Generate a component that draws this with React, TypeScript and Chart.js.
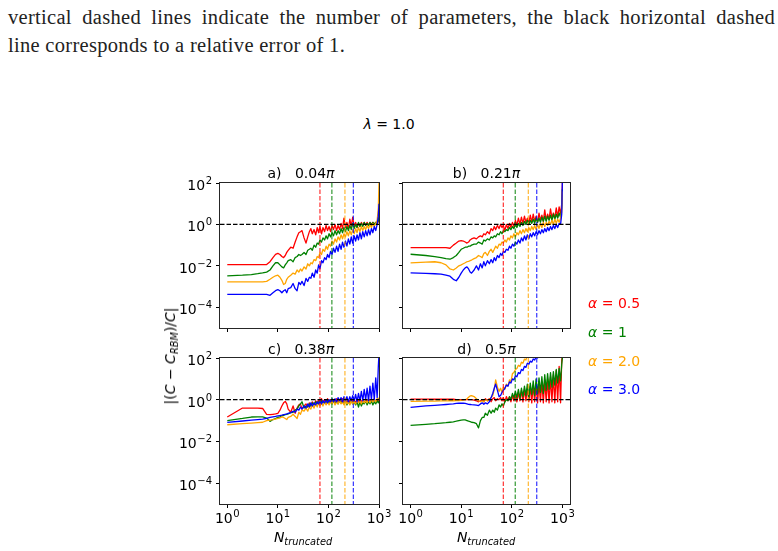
import React, { useEffect, useRef } from "react";
import { Chart, registerables } from "chart.js";
Chart.register(...registerables);

// ---------------- data ----------------
const nTruncated = [1,2,3,4,5,6,7,8,9,10,11,12,13,14,15,16,18,20,22,24,26,28,30,33,36,39,42,45,48,52,56,60,64,68,73,78,84,90,96,103,110,118,126,135,145,155,166,178,190,203,217,232,248,265,283,302,323,345,368,393,420,448,478,510,545,582,621,663,708,756,807,862,920,970,1000];

// panel a) 0.04π
const aRed = [0.0115,0.0115,0.0115,0.0115,0.0115,0.0115,0.0158,0.0251,0.0355,0.0398,0.0355,0.0282,0.0251,0.0316,0.0447,0.0562,0.0794,0.0708,0.141,0.251,0.398,0.447,0.501,0.224,0.126,0.251,0.447,0.631,0.355,0.562,0.316,0.708,0.398,0.794,0.355,0.708,0.447,0.891,0.501,0.794,0.447,0.891,0.562,1.0,0.501,0.891,0.562,1.12,0.631,2.0,0.708,1.26,0.631,1.78,0.794,2.24,0.794,1.26,0.708,1.12,0.794,1.26,0.891,1.26,0.891,1.26,0.891,1.26,1.0,1.26,1.0,1.26,1.0,1.41,1.58];
const aGreen = [0.00331,0.00355,0.0038,0.00417,0.00457,0.00501,0.00631,0.01,0.0141,0.0141,0.0112,0.00891,0.00794,0.0112,0.0141,0.0178,0.02,0.0158,0.0251,0.0282,0.0355,0.0316,0.0355,0.0447,0.0355,0.0562,0.0631,0.0708,0.0562,0.1,0.0794,0.126,0.112,0.178,0.141,0.224,0.178,0.282,0.2,0.355,0.251,0.398,0.282,0.501,0.316,0.501,0.355,0.631,0.398,0.708,0.447,0.794,0.501,0.891,0.562,1.12,0.631,1.0,0.708,1.26,0.794,1.12,0.794,1.26,0.891,1.12,0.891,1.26,0.891,1.26,1.0,1.26,1.12,1.58,2.51];
const aOrange = [0.0017,0.0017,0.0017,0.0017,0.0017,0.00178,0.00224,0.00282,0.00331,0.00355,0.00282,0.002,0.00126,0.00141,0.00224,0.00282,0.00355,0.00447,0.00398,0.00631,0.00501,0.00708,0.00562,0.00891,0.00708,0.0126,0.01,0.0141,0.0126,0.02,0.0178,0.0282,0.0251,0.0447,0.0355,0.0631,0.0501,0.0891,0.0631,0.112,0.0891,0.158,0.112,0.2,0.141,0.251,0.178,0.316,0.2,0.355,0.251,0.447,0.282,0.501,0.316,0.562,0.355,0.631,0.398,0.708,0.447,0.794,0.501,0.794,0.562,0.891,0.631,1.0,0.708,1.12,0.794,1.12,1.58,6.31,100];
const aBlue = [0.000417,0.000417,0.000417,0.000417,0.000417,0.000417,0.00038,0.000501,0.000631,0.000708,0.000631,0.000501,0.000631,0.000708,0.000501,0.000794,0.000891,0.00141,0.000794,0.000631,0.00158,0.00126,0.00178,0.00112,0.00251,0.00178,0.00282,0.00251,0.00447,0.00282,0.00631,0.00447,0.0112,0.00708,0.0178,0.0141,0.0251,0.02,0.0355,0.0251,0.0501,0.0355,0.0708,0.0447,0.0891,0.0501,0.112,0.0631,0.141,0.0794,0.158,0.0891,0.2,0.112,0.251,0.126,0.282,0.158,0.316,0.178,0.398,0.2,0.447,0.251,0.501,0.282,0.562,0.316,0.631,0.398,0.794,0.501,1.0,2.51,10];

// panel b) 0.21π
const bRed = [0.0759,0.0759,0.0759,0.0759,0.0759,0.0708,0.1,0.126,0.158,0.166,0.158,0.141,0.126,0.141,0.178,0.2,0.224,0.2,0.251,0.282,0.251,0.355,0.316,0.447,0.355,0.631,0.501,0.794,0.562,0.891,0.631,1.0,0.708,0.891,0.501,1.0,0.631,1.12,0.708,1.26,0.794,1.58,0.891,2.0,1.0,2.24,1.12,2.51,1.26,2.0,1.12,2.82,1.26,3.16,1.41,2.51,1.26,3.55,1.58,2.82,1.41,5.01,1.58,3.16,1.78,5.62,2.0,3.55,2.0,6.31,2.24,7.08,3.16,10,100];
const bGreen = [0.0363,0.0316,0.0282,0.0251,0.0224,0.0209,0.0251,0.0316,0.0447,0.0631,0.0708,0.0794,0.0794,0.0891,0.0891,0.1,0.112,0.112,0.141,0.126,0.112,0.178,0.158,0.2,0.178,0.251,0.224,0.282,0.251,0.355,0.316,0.447,0.355,0.501,0.447,0.562,0.501,0.708,0.562,0.794,0.631,1.0,0.708,1.12,0.794,1.26,0.891,1.41,1.0,1.58,1.0,1.58,1.12,1.78,1.12,2.0,1.26,2.0,1.26,2.24,1.41,2.51,1.41,2.51,1.58,2.82,1.58,3.16,1.78,3.16,2.0,3.55,2.24,6.31,50.1];
const bOrange = [0.0138,0.0151,0.0158,0.0141,0.0112,0.00708,0.00631,0.00794,0.01,0.0112,0.0126,0.0141,0.0158,0.0166,0.0178,0.0191,0.0224,0.0251,0.0316,0.0282,0.0251,0.0398,0.0447,0.0316,0.0501,0.0631,0.0447,0.0631,0.0891,0.0708,0.112,0.1,0.141,0.126,0.178,0.141,0.224,0.178,0.282,0.224,0.355,0.251,0.398,0.316,0.501,0.355,0.562,0.398,0.631,0.447,0.708,0.501,0.794,0.562,0.891,0.562,1.0,0.631,1.12,0.708,1.26,0.794,1.26,0.891,1.41,1.0,1.58,1.0,1.78,1.12,1.78,1.26,2.0,3.98,39.8];
const bBlue = [0.00457,0.00437,0.00417,0.00398,0.00355,0.00316,0.00224,0.00191,0.00282,0.00447,0.00631,0.00794,0.00891,0.00708,0.00501,0.00447,0.00631,0.01,0.00631,0.0126,0.00794,0.0158,0.01,0.0178,0.0126,0.02,0.0141,0.0251,0.0178,0.0316,0.0251,0.0398,0.0316,0.0501,0.0447,0.0631,0.0562,0.0891,0.0708,0.112,0.0891,0.141,0.112,0.178,0.126,0.224,0.158,0.282,0.178,0.316,0.2,0.355,0.251,0.398,0.282,0.447,0.316,0.501,0.355,0.562,0.398,0.631,0.447,0.708,0.501,0.794,0.562,0.891,0.631,1.0,0.708,1.12,1.0,3.16,158];

// panel c) 0.38π
const cRed = [0.148,0.398,0.398,0.398,0.38,0.2,0.191,0.2,0.209,0.224,0.316,0.501,0.708,0.832,0.631,0.355,0.251,0.501,0.224,0.398,0.562,0.631,0.355,0.501,0.631,0.447,0.708,0.501,0.794,0.562,0.891,0.708,1.0,0.794,1.12,0.794,1.0,0.708,1.12,0.794,1.0,0.708,1.0,0.794,1.12,0.794,1.0,0.708,1.12,0.794,1.0,0.708,1.0,0.794,1.12,0.794,1.0,0.708,1.0,0.794,1.12,0.794,1.0,0.708,1.0,0.794,1.12,0.794,1.0,0.794,1.12,0.794,1.0,0.794,1.0];
const cGreen = [0.1,0.126,0.148,0.151,0.151,0.132,0.0912,0.112,0.126,0.141,0.151,0.166,0.178,0.191,0.2,0.209,0.24,0.251,0.316,0.355,0.501,0.631,0.794,0.398,0.501,0.447,0.631,0.501,0.708,0.562,0.794,0.631,0.794,0.631,0.891,0.708,0.794,0.631,0.891,0.708,0.794,0.631,0.891,0.708,0.794,0.631,0.891,0.708,0.794,0.631,0.891,0.562,0.794,0.631,0.891,0.631,0.794,0.562,0.794,0.447,0.794,0.501,0.708,0.631,0.891,0.562,0.794,0.631,0.891,0.562,0.794,0.631,0.891,0.708,0.891];
const cOrange = [0.0631,0.0708,0.0759,0.0794,0.0832,0.1,0.105,0.11,0.117,0.126,0.132,0.151,0.141,0.126,0.112,0.141,0.158,0.2,0.158,0.126,0.251,0.2,0.316,0.282,0.398,0.282,0.447,0.355,0.562,0.398,0.631,0.447,0.708,0.501,0.708,0.501,0.794,0.562,0.794,0.562,0.794,0.631,0.891,0.562,0.794,0.631,0.891,0.631,0.794,0.562,0.891,0.631,0.794,0.562,0.891,0.631,0.794,0.631,0.891,0.708,0.891,0.631,1.0,0.708,0.891,0.708,1.0,0.708,1.0,0.794,1.12,0.794,1.12,1.0,1.26];
const cBlue = [0.0813,0.0955,0.105,0.112,0.117,0.126,0.141,0.151,0.158,0.166,0.174,0.182,0.191,0.2,0.209,0.219,0.24,0.282,0.251,0.355,0.316,0.447,0.355,0.501,0.398,0.631,0.447,0.708,0.501,0.708,0.562,0.794,0.631,0.891,0.631,0.891,0.708,1.0,0.708,1.0,0.794,1.12,0.794,1.12,0.794,1.26,0.891,1.26,0.794,1.41,0.891,1.41,0.794,1.41,0.891,1.58,0.891,1.78,0.794,2.0,0.891,2.51,0.891,3.16,1.0,3.55,0.891,4.47,1.0,6.31,1.0,11.2,1.26,39.8,158];

// panel d) 0.5π
const dRed = [1.07,1.07,1.05,1.05,1.05,1.05,1.05,1.02,1.02,1.02,1.0,1.0,1.0,1.0,1.0,1.0,0.955,0.891,0.794,0.891,1.0,0.794,1.12,0.891,1.12,0.794,1.12,1.26,0.891,1.12,1.0,1.26,0.891,1.26,0.794,1.41,0.891,1.41,0.794,1.58,0.891,2.0,0.794,2.24,0.891,2.82,0.794,3.16,0.891,3.55,0.794,4.47,0.708,5.01,0.794,5.62,0.708,6.31,0.794,7.08,0.708,8.91,0.794,10,0.708,12.6,0.794,15.8,0.708,25.1,0.794,39.8,0.708,79.4,126];
const dGreen = [0.0589,0.0661,0.0708,0.0759,0.0794,0.0832,0.0871,0.0933,0.1,0.105,0.107,0.107,0.1,0.0933,0.0891,0.0832,0.0794,0.0708,0.0447,0.1,0.141,0.141,0.224,0.178,0.316,0.224,0.316,0.251,0.398,0.316,0.562,0.447,0.631,0.501,0.794,1.0,0.891,1.41,1.0,2.0,1.26,2.51,1.26,3.16,1.12,3.55,1.41,4.47,1.58,5.62,1.26,6.31,1.78,7.94,1.58,10,2.0,11.2,2.24,12.6,2.0,15.8,2.82,17.8,3.16,20,3.98,22.4,5.01,28.2,6.31,31.6,7.94,50.1,100];
const dOrange = [0.832,0.851,0.851,0.871,0.871,0.891,0.891,0.912,0.912,0.933,0.955,1.0,1.12,1.32,1.51,1.58,1.41,1.12,0.891,0.794,0.891,0.794,1.0,0.891,1.0,1.26,1.58,3.16,8.91,3.98,2.51,3.55,2.24,3.98,3.16,5.62,4.47,8.91,7.08,17.8,20,28.2,31.6,44.7,39.8,63.1,56.2,89.1,79.4,141,126,200,158,251,200,251,200,251,200,251,200,251,200,251,200,251,200,251,200,251,200,251,200,251,200];
const dBlue = [0.427,0.501,0.537,0.562,0.589,0.617,0.631,0.661,0.676,0.692,0.676,0.661,0.631,0.603,0.589,0.575,0.562,0.55,0.525,0.631,0.708,0.603,0.708,0.631,0.794,1.26,2.0,3.55,5.62,2.82,1.41,1.58,2.24,2.82,3.55,5.01,4.47,7.08,6.31,10,8.91,14.1,12.6,20,17.8,28.2,25.1,39.8,35.5,56.2,50.1,70.8,63.1,89.1,79.4,112,100,141,126,200,158,200,158,200,158,200,158,200,158,200,158,200,158,200,158];

// number of parameters for each alpha (vertical dashed lines)
const paramCounts = [68, 117, 212, 311];
const alphaValues = ["0.5", "1", "2.0", "3.0"];
const seriesColors = ["#ff0000", "#008000", "#ffa500", "#0000ff"];
const panelLetters = ["a)", "b)", "c)", "d)"];
const panelPhases = ["0.04", "0.21", "0.38", "0.5"];
const xTickValues = [1, 10, 100, 1000];
const xTickExponents = ["0", "1", "2", "3"];
const yTickValues = [1e-4, 1e-2, 1, 1e2];
const yTickExponents = ["\u22124", "\u22122", "0", "2"];
const panelSeries = [
  [aRed, aGreen, aOrange, aBlue],
  [bRed, bGreen, bOrange, bBlue],
  [cRed, cGreen, cOrange, cBlue],
  [dRed, dGreen, dOrange, dBlue],
];

// ---------------- layout ----------------
const FONT = '"DejaVu Sans", sans-serif';
const panelBoxes = [
  { left: 220, top: 183, width: 159, height: 145, xMin: 0.718, xMax: 1000, showX: false, showY: true },
  { left: 403, top: 183, width: 167, height: 145, xMin: 0.708, xMax: 1413, showX: false, showY: false },
  { left: 220, top: 358, width: 159, height: 146, xMin: 0.718, xMax: 1000, showX: true, showY: true },
  { left: 403, top: 358, width: 167, height: 146, xMin: 0.708, xMax: 1413, showX: true, showY: false },
];
const PAD_L = 60, PAD_T = 14, PAD_R = 24, PAD_B = 36;
const BASE_FONT = "14px " + FONT;
const EXP_FONT = "10px " + FONT;

function drawPow(ctx: CanvasRenderingContext2D, exp: string, x: number, baseline: number, align: "center" | "right") {
  ctx.font = BASE_FONT;
  const wb = ctx.measureText("10").width;
  ctx.font = EXP_FONT;
  const we = ctx.measureText(exp).width;
  const total = wb + we + 0.5;
  const x0 = align === "center" ? x - total / 2 : x - total;
  ctx.textAlign = "left";
  ctx.textBaseline = "alphabetic";
  ctx.font = BASE_FONT;
  ctx.fillText("10", x0, baseline);
  ctx.font = EXP_FONT;
  ctx.fillText(exp, x0 + wb + 0.5, baseline - 6);
}

const overlayPlugin = {
  id: "overlayLines",
  afterDatasetsDraw(chart: any) {
    const { ctx, chartArea: a, scales } = chart;
    ctx.save();
    ctx.beginPath();
    ctx.rect(a.left, a.top, a.right - a.left, a.bottom - a.top);
    ctx.clip();
    ctx.lineWidth = 1.2;
    ctx.setLineDash([4.5, 2]);
    paramCounts.forEach((p, i) => {
      const x = scales.x.getPixelForValue(p);
      ctx.strokeStyle = seriesColors[i];
      ctx.globalAlpha = 0.8;
      ctx.beginPath();
      ctx.moveTo(x, a.top);
      ctx.lineTo(x, a.bottom);
      ctx.stroke();
    });
    ctx.globalAlpha = 1;
    const y = scales.y.getPixelForValue(1);
    ctx.strokeStyle = "#000";
    ctx.beginPath();
    ctx.moveTo(a.left, y);
    ctx.lineTo(a.right, y);
    ctx.stroke();
    ctx.restore();
  },
  afterDraw(chart: any) {
    const { ctx, chartArea: a, scales } = chart;
    const opts = chart.options.plugins.overlayLines || {};
    ctx.save();
    ctx.strokeStyle = "#262626";
    ctx.lineWidth = 1;
    ctx.setLineDash([]);
    ctx.strokeRect(a.left - 0.5, a.top - 0.5, a.right - a.left + 1, a.bottom - a.top + 1);
    ctx.fillStyle = "#000";
    if (opts.showX) {
      xTickValues.forEach((v, i) => {
        drawPow(ctx, xTickExponents[i], scales.x.getPixelForValue(v), a.bottom + 19, "center");
      });
    }
    if (opts.showY) {
      yTickValues.forEach((v, i) => {
        drawPow(ctx, yTickExponents[i], a.left - 8, scales.y.getPixelForValue(v) + 7, "right");
      });
    }
    ctx.restore();
  },
};

function Panel({ idx }: { idx: number }) {
  const ref = useRef<HTMLCanvasElement>(null);
  const box = panelBoxes[idx];
  const cw = box.width + PAD_L + PAD_R;
  const ch = box.height + PAD_T + PAD_B;
  useEffect(() => {
    const series = panelSeries[idx];
    const order = [3, 2, 1, 0]; // blue drawn on top
    const datasets = order.map((k) => ({
      data: nTruncated.map((n, i) => ({ x: n, y: series[k][i] })),
      borderColor: seriesColors[k],
      borderWidth: 1.3,
      pointRadius: 0,
      fill: false,
      tension: 0,
      borderJoinStyle: "round" as const,
      clip: 0,
    }));
    const tickFont = { family: FONT, size: 13 };
    const chart = new Chart(ref.current!, {
      type: "line",
      data: { datasets },
      plugins: [overlayPlugin],
      options: {
        animation: false,
        responsive: false,
        devicePixelRatio: 1,
        events: [],
        layout: { padding: { top: PAD_T, right: PAD_R, left: 0, bottom: 0 } },
        plugins: {
          legend: { display: false },
          tooltip: { enabled: false },
          title: { display: false },
          overlayLines: { showX: box.showX, showY: box.showY },
        },
        scales: {
          x: {
            type: "logarithmic",
            min: box.xMin,
            max: box.xMax,
            bounds: "data",
            afterFit: (s: any) => { s.height = PAD_B; },
            afterBuildTicks: (s: any) => { s.ticks = xTickValues.map((v) => ({ value: v })); },
            ticks: { autoSkip: false, maxRotation: 0, padding: 2, font: tickFont, callback: () => "" },
            grid: { display: true, drawOnChartArea: false, drawTicks: true, tickLength: 4, tickColor: "#000", tickWidth: 1 },
            border: { display: false },
          },
          y: {
            type: "logarithmic",
            min: 1e-5,
            max: 1e2,
            bounds: "data",
            afterFit: (s: any) => { s.width = PAD_L; },
            afterBuildTicks: (s: any) => { s.ticks = yTickValues.map((v) => ({ value: v })); },
            ticks: { autoSkip: false, padding: 3, font: tickFont, callback: () => "" },
            grid: { display: true, drawOnChartArea: false, drawTicks: true, tickLength: 4, tickColor: "#000", tickWidth: 1 },
            border: { display: false },
          },
        },
      } as any,
    });
    return () => chart.destroy();
  }, [idx]);
  return (
    <canvas
      ref={ref}
      width={cw}
      height={ch}
      style={{ position: "absolute", left: box.left - PAD_L, top: box.top - PAD_T, width: cw, height: ch }}
    />
  );
}

const centered = (x: number, y: number, extra: React.CSSProperties = {}): React.CSSProperties => ({
  position: "absolute",
  left: x,
  top: y,
  transform: "translate(-50%,-50%)",
  whiteSpace: "pre",
  lineHeight: 1,
  fontFamily: FONT,
  color: "#000",
  ...extra,
});

const subStyle: React.CSSProperties = { fontSize: "0.7em", verticalAlign: "-0.3em", lineHeight: 0 };
const captionStyle: React.CSSProperties = {
  position: "absolute",
  left: 8,
  fontFamily: '"Liberation Serif", serif',
  fontSize: 20.5,
  letterSpacing: 0.3,
  lineHeight: "28px",
  color: "#222",
};

export default function App() {
  const titlePos = [
    [301, 172.5],
    [486.5, 172.5],
    [301, 348.5],
    [486.5, 348.5],
  ];
  const legendY = [302.7, 331.7, 360.5, 389.3];
  return (
    <div style={{ position: "absolute", left: 0, top: 0, width: 778, height: 551, background: "#fff", overflow: "hidden" }}>
      <div style={{ ...captionStyle, top: 3, width: 767, textAlign: "justify", textAlignLast: "justify" } as any}>
        vertical dashed lines indicate the number of parameters, the black horizontal dashed
      </div>
      <div style={{ ...captionStyle, top: 31, whiteSpace: "nowrap" }}>line corresponds to a relative error of 1.</div>

      {panelBoxes.map((_, i) => (
        <Panel key={i} idx={i} />
      ))}

      <div style={centered(389, 124, { fontSize: 14 })}>
        <i>λ</i> = 1.0
      </div>
      {panelLetters.map((l, i) => (
        <div key={l} style={centered(titlePos[i][0], titlePos[i][1], { fontSize: 14 })}>
          {l + "   " + panelPhases[i]}
          <i>π</i>
        </div>
      ))}
      {[303, 486].map((x, i) => (
        <div key={i} style={centered(x, 537, { fontSize: 14 })}>
          <i>N</i>
          <sub style={subStyle}>
            <i>truncated</i>
          </sub>
        </div>
      ))}
      <div style={{ ...centered(170, 356, { fontSize: 14 }), transform: "translate(-50%,-50%) rotate(-90deg)" }}>
        |(<i>C</i> − <i>C</i>
        <sub style={subStyle}>
          <i>RBM</i>
        </sub>
        )/<i>C</i>|
      </div>
      {alphaValues.map((a, i) => (
        <div
          key={a}
          style={{ position: "absolute", left: 588, top: legendY[i], transform: "translateY(-50%)", fontFamily: FONT, fontSize: 14, lineHeight: 1, color: seriesColors[i], whiteSpace: "pre" }}
        >
          <i>α</i> = {a}
        </div>
      ))}
    </div>
  );
}
